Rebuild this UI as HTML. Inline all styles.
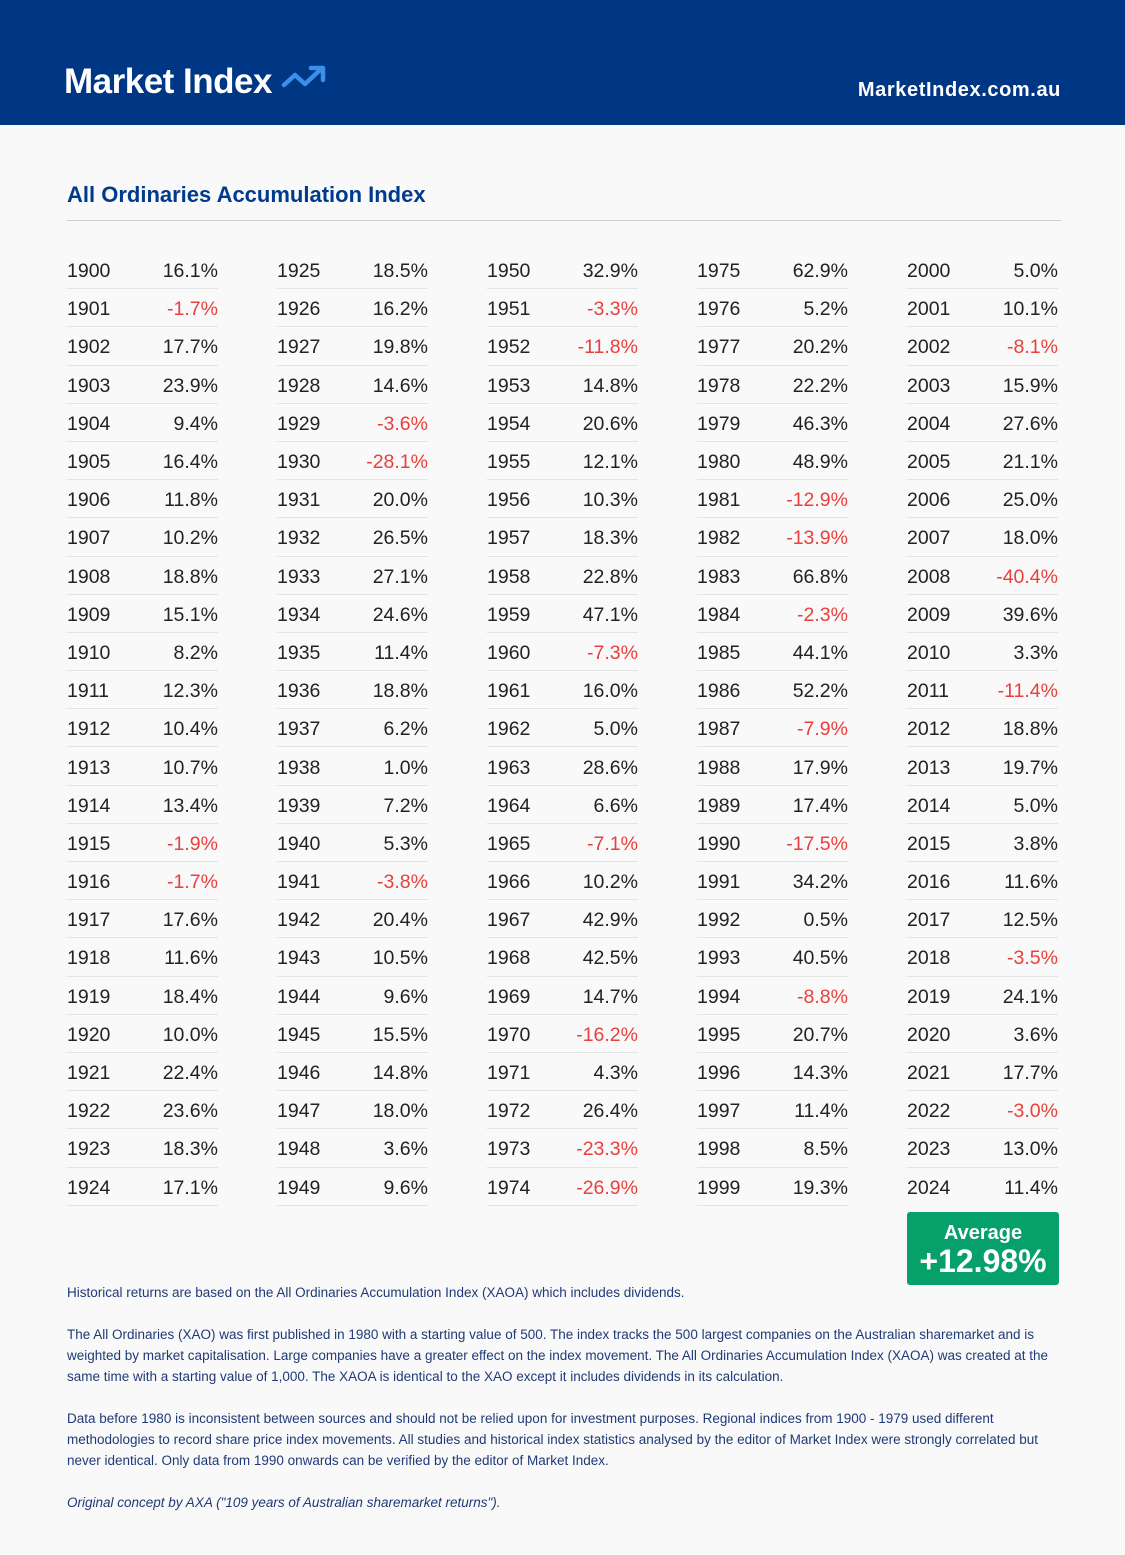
<!DOCTYPE html>
<html><head><meta charset="utf-8">
<style>
*{margin:0;padding:0;box-sizing:border-box}
body{width:1125px;height:1555px;background:#f9f9f9;font-family:"Liberation Sans",sans-serif;position:relative;overflow:hidden}
.hdr{position:absolute;left:0;top:0;width:1125px;height:125px;background:#003784}
.logo{position:absolute;left:64px;top:62px;color:#fff;font-size:35px;font-weight:bold;line-height:40px;letter-spacing:-0.5px}
.site{position:absolute;right:64px;top:78px;color:#fff;font-size:20px;font-weight:bold;line-height:24px;letter-spacing:0.6px}
.title{position:absolute;left:67px;top:181px;color:#003a8c;font-size:22px;font-weight:bold;line-height:28px}
.rule{position:absolute;left:67px;top:220px;width:994px;height:1px;background:#d0d0d0}
.col{position:absolute;top:251px;width:151px}
.r{height:38.2px;border-bottom:1px solid #e4e4e4;display:flex;justify-content:space-between;align-items:center;font-size:19.5px;color:#222;padding-top:4px}
.n{color:#e8403c}
.avg{position:absolute;left:907px;top:1212px;width:152px;height:73px;background:#06a06a;border-radius:3px;color:#fff;text-align:center;font-weight:bold}
.avg .a{font-size:20px;line-height:22px;margin-top:10px}
.avg .b{font-size:32px;line-height:34px}
.txt{position:absolute;left:67px;color:#1f3a78;font-size:13.5px;line-height:21px;white-space:nowrap}
</style></head><body>
<div class="hdr">
<div class="logo">Market Index <svg width="52" height="30" viewBox="0 0 52 30" style="vertical-align:-2px"><polyline points="3,20 14,10 24,19 40,4" fill="none" stroke="#3b8fe8" stroke-width="4.5" stroke-linecap="round" stroke-linejoin="round"/><polyline points="30,3 42,3 42,15" fill="none" stroke="#3b8fe8" stroke-width="4.5" stroke-linecap="round" stroke-linejoin="round"/></svg></div>
<div class="site">MarketIndex.com.au</div>
</div>
<div class="title">All Ordinaries Accumulation Index</div>
<div class="rule"></div>

<div class="col" style="left:67px">
<div class="r"><span>1900</span><span>16.1%</span></div>
<div class="r"><span>1901</span><span class="n">-1.7%</span></div>
<div class="r"><span>1902</span><span>17.7%</span></div>
<div class="r"><span>1903</span><span>23.9%</span></div>
<div class="r"><span>1904</span><span>9.4%</span></div>
<div class="r"><span>1905</span><span>16.4%</span></div>
<div class="r"><span>1906</span><span>11.8%</span></div>
<div class="r"><span>1907</span><span>10.2%</span></div>
<div class="r"><span>1908</span><span>18.8%</span></div>
<div class="r"><span>1909</span><span>15.1%</span></div>
<div class="r"><span>1910</span><span>8.2%</span></div>
<div class="r"><span>1911</span><span>12.3%</span></div>
<div class="r"><span>1912</span><span>10.4%</span></div>
<div class="r"><span>1913</span><span>10.7%</span></div>
<div class="r"><span>1914</span><span>13.4%</span></div>
<div class="r"><span>1915</span><span class="n">-1.9%</span></div>
<div class="r"><span>1916</span><span class="n">-1.7%</span></div>
<div class="r"><span>1917</span><span>17.6%</span></div>
<div class="r"><span>1918</span><span>11.6%</span></div>
<div class="r"><span>1919</span><span>18.4%</span></div>
<div class="r"><span>1920</span><span>10.0%</span></div>
<div class="r"><span>1921</span><span>22.4%</span></div>
<div class="r"><span>1922</span><span>23.6%</span></div>
<div class="r"><span>1923</span><span>18.3%</span></div>
<div class="r"><span>1924</span><span>17.1%</span></div>
</div>

<div class="col" style="left:277px">
<div class="r"><span>1925</span><span>18.5%</span></div>
<div class="r"><span>1926</span><span>16.2%</span></div>
<div class="r"><span>1927</span><span>19.8%</span></div>
<div class="r"><span>1928</span><span>14.6%</span></div>
<div class="r"><span>1929</span><span class="n">-3.6%</span></div>
<div class="r"><span>1930</span><span class="n">-28.1%</span></div>
<div class="r"><span>1931</span><span>20.0%</span></div>
<div class="r"><span>1932</span><span>26.5%</span></div>
<div class="r"><span>1933</span><span>27.1%</span></div>
<div class="r"><span>1934</span><span>24.6%</span></div>
<div class="r"><span>1935</span><span>11.4%</span></div>
<div class="r"><span>1936</span><span>18.8%</span></div>
<div class="r"><span>1937</span><span>6.2%</span></div>
<div class="r"><span>1938</span><span>1.0%</span></div>
<div class="r"><span>1939</span><span>7.2%</span></div>
<div class="r"><span>1940</span><span>5.3%</span></div>
<div class="r"><span>1941</span><span class="n">-3.8%</span></div>
<div class="r"><span>1942</span><span>20.4%</span></div>
<div class="r"><span>1943</span><span>10.5%</span></div>
<div class="r"><span>1944</span><span>9.6%</span></div>
<div class="r"><span>1945</span><span>15.5%</span></div>
<div class="r"><span>1946</span><span>14.8%</span></div>
<div class="r"><span>1947</span><span>18.0%</span></div>
<div class="r"><span>1948</span><span>3.6%</span></div>
<div class="r"><span>1949</span><span>9.6%</span></div>
</div>

<div class="col" style="left:487px">
<div class="r"><span>1950</span><span>32.9%</span></div>
<div class="r"><span>1951</span><span class="n">-3.3%</span></div>
<div class="r"><span>1952</span><span class="n">-11.8%</span></div>
<div class="r"><span>1953</span><span>14.8%</span></div>
<div class="r"><span>1954</span><span>20.6%</span></div>
<div class="r"><span>1955</span><span>12.1%</span></div>
<div class="r"><span>1956</span><span>10.3%</span></div>
<div class="r"><span>1957</span><span>18.3%</span></div>
<div class="r"><span>1958</span><span>22.8%</span></div>
<div class="r"><span>1959</span><span>47.1%</span></div>
<div class="r"><span>1960</span><span class="n">-7.3%</span></div>
<div class="r"><span>1961</span><span>16.0%</span></div>
<div class="r"><span>1962</span><span>5.0%</span></div>
<div class="r"><span>1963</span><span>28.6%</span></div>
<div class="r"><span>1964</span><span>6.6%</span></div>
<div class="r"><span>1965</span><span class="n">-7.1%</span></div>
<div class="r"><span>1966</span><span>10.2%</span></div>
<div class="r"><span>1967</span><span>42.9%</span></div>
<div class="r"><span>1968</span><span>42.5%</span></div>
<div class="r"><span>1969</span><span>14.7%</span></div>
<div class="r"><span>1970</span><span class="n">-16.2%</span></div>
<div class="r"><span>1971</span><span>4.3%</span></div>
<div class="r"><span>1972</span><span>26.4%</span></div>
<div class="r"><span>1973</span><span class="n">-23.3%</span></div>
<div class="r"><span>1974</span><span class="n">-26.9%</span></div>
</div>

<div class="col" style="left:697px">
<div class="r"><span>1975</span><span>62.9%</span></div>
<div class="r"><span>1976</span><span>5.2%</span></div>
<div class="r"><span>1977</span><span>20.2%</span></div>
<div class="r"><span>1978</span><span>22.2%</span></div>
<div class="r"><span>1979</span><span>46.3%</span></div>
<div class="r"><span>1980</span><span>48.9%</span></div>
<div class="r"><span>1981</span><span class="n">-12.9%</span></div>
<div class="r"><span>1982</span><span class="n">-13.9%</span></div>
<div class="r"><span>1983</span><span>66.8%</span></div>
<div class="r"><span>1984</span><span class="n">-2.3%</span></div>
<div class="r"><span>1985</span><span>44.1%</span></div>
<div class="r"><span>1986</span><span>52.2%</span></div>
<div class="r"><span>1987</span><span class="n">-7.9%</span></div>
<div class="r"><span>1988</span><span>17.9%</span></div>
<div class="r"><span>1989</span><span>17.4%</span></div>
<div class="r"><span>1990</span><span class="n">-17.5%</span></div>
<div class="r"><span>1991</span><span>34.2%</span></div>
<div class="r"><span>1992</span><span>0.5%</span></div>
<div class="r"><span>1993</span><span>40.5%</span></div>
<div class="r"><span>1994</span><span class="n">-8.8%</span></div>
<div class="r"><span>1995</span><span>20.7%</span></div>
<div class="r"><span>1996</span><span>14.3%</span></div>
<div class="r"><span>1997</span><span>11.4%</span></div>
<div class="r"><span>1998</span><span>8.5%</span></div>
<div class="r"><span>1999</span><span>19.3%</span></div>
</div>

<div class="col" style="left:907px">
<div class="r"><span>2000</span><span>5.0%</span></div>
<div class="r"><span>2001</span><span>10.1%</span></div>
<div class="r"><span>2002</span><span class="n">-8.1%</span></div>
<div class="r"><span>2003</span><span>15.9%</span></div>
<div class="r"><span>2004</span><span>27.6%</span></div>
<div class="r"><span>2005</span><span>21.1%</span></div>
<div class="r"><span>2006</span><span>25.0%</span></div>
<div class="r"><span>2007</span><span>18.0%</span></div>
<div class="r"><span>2008</span><span class="n">-40.4%</span></div>
<div class="r"><span>2009</span><span>39.6%</span></div>
<div class="r"><span>2010</span><span>3.3%</span></div>
<div class="r"><span>2011</span><span class="n">-11.4%</span></div>
<div class="r"><span>2012</span><span>18.8%</span></div>
<div class="r"><span>2013</span><span>19.7%</span></div>
<div class="r"><span>2014</span><span>5.0%</span></div>
<div class="r"><span>2015</span><span>3.8%</span></div>
<div class="r"><span>2016</span><span>11.6%</span></div>
<div class="r"><span>2017</span><span>12.5%</span></div>
<div class="r"><span>2018</span><span class="n">-3.5%</span></div>
<div class="r"><span>2019</span><span>24.1%</span></div>
<div class="r"><span>2020</span><span>3.6%</span></div>
<div class="r"><span>2021</span><span>17.7%</span></div>
<div class="r"><span>2022</span><span class="n">-3.0%</span></div>
<div class="r"><span>2023</span><span>13.0%</span></div>
<div class="r" style="border-bottom:none"><span>2024</span><span>11.4%</span></div>
</div>

<div class="avg"><div class="a">Average</div><div class="b">+12.98%</div></div>

<div class="txt" style="top:1282px">Historical returns are based on the All Ordinaries Accumulation Index (XAOA) which includes dividends.</div>
<div class="txt" style="top:1324px">The All Ordinaries (XAO) was first published in 1980 with a starting value of 500. The index tracks the 500 largest companies on the Australian sharemarket and is<br>weighted by market capitalisation. Large companies have a greater effect on the index movement. The All Ordinaries Accumulation Index (XAOA) was created at the<br>same time with a starting value of 1,000. The XAOA is identical to the XAO except it includes dividends in its calculation.</div>
<div class="txt" style="top:1408px">Data before 1980 is inconsistent between sources and should not be relied upon for investment purposes. Regional indices from 1900 - 1979 used different<br>methodologies to record share price index movements. All studies and historical index statistics analysed by the editor of Market Index were strongly correlated but<br>never identical. Only data from 1990 onwards can be verified by the editor of Market Index.</div>
<div class="txt" style="top:1492px;font-style:italic">Original concept by AXA ("109 years of Australian sharemarket returns").</div>
</body></html>
